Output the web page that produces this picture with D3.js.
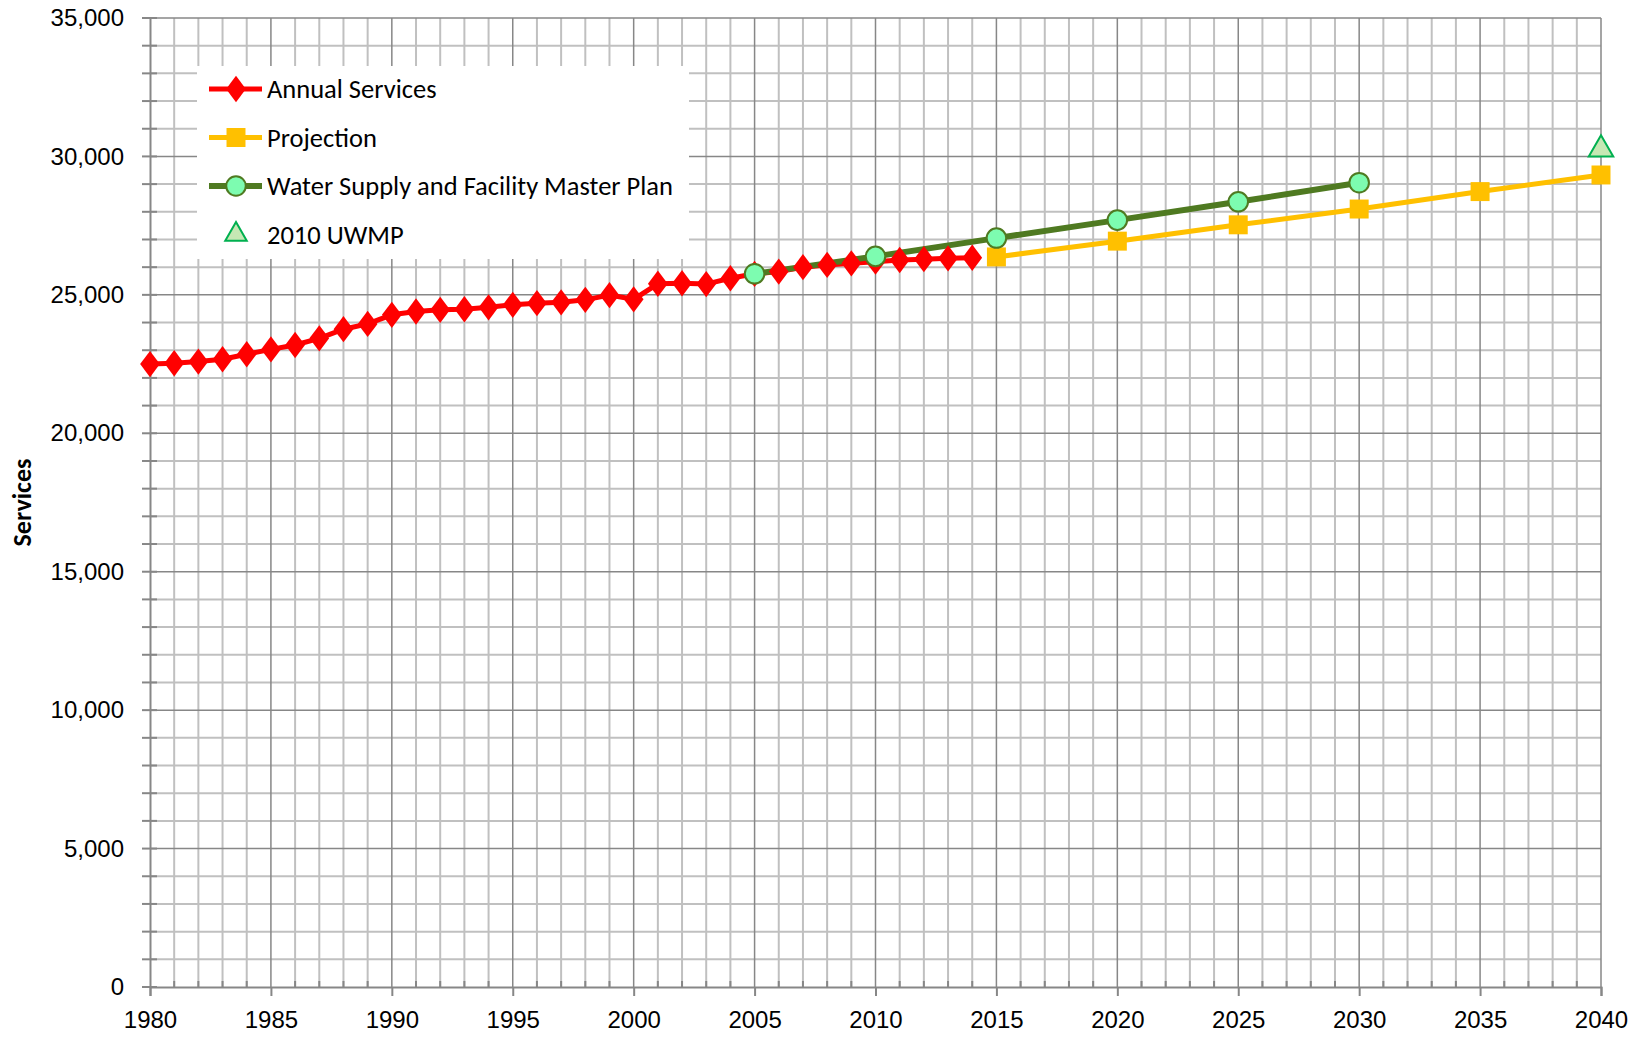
<!DOCTYPE html>
<html>
<head>
<meta charset="utf-8">
<script src="https://cdn.jsdelivr.net/npm/d3@7"></script>
<style>
  body { margin: 0; background: #fff; }
  svg { display: block; font-family: Carlito, Lato, sans-serif; }
</style>
</head>
<body>
<div id="chart"></div>
<script>
// annual services 1980-2014
const annualYears = d3.range(1980, 2015);
const annualValues = [22500, 22530, 22590, 22675, 22855, 23030, 23190, 23430, 23760, 23950,
  24280, 24400, 24460, 24480, 24550, 24640, 24700, 24730, 24820, 24990,
  24840, 25400, 25420, 25390, 25600, 25760, 25840, 26000, 26080, 26140,
  26200, 26260, 26290, 26320, 26340];

const projYears = [2015, 2020, 2025, 2030, 2035, 2040];
const projValues = [26370, 26940, 27530, 28100, 28730, 29330];

const planYears = [2005, 2010, 2015, 2020, 2025, 2030];
const planValues = [25760, 26390, 27050, 27700, 28360, 29050];

const uwmpYears = [2040];
const uwmpValues = [30250];

const legendLabels = ['Annual Services', 'Projection', 'Water Supply and Facility Master Plan', '2010 UWMP'];

const width = 1644, height = 1040;
const margin = { left: 150, right: 43, top: 18, bottom: 53 };

const svg = d3.select('#chart').append('svg')
  .attr('width', width)
  .attr('height', height);

const x = d3.scaleLinear().domain([1980, 2040]).range([margin.left, width - margin.right]);
const y = d3.scaleLinear().domain([0, 35000]).range([height - margin.bottom, margin.top]);

const minorGrey = '#c0c0c0', majorGrey = '#878787';

// grid - minor first
svg.append('g')
  .selectAll('line.vminor')
  .data(d3.range(1981, 2040).filter(d => d % 5 !== 0))
  .enter().append('line')
  .attr('x1', d => x(d)).attr('x2', d => x(d))
  .attr('y1', y(0)).attr('y2', y(35000))
  .attr('stroke', minorGrey).attr('stroke-width', 2);

svg.append('g')
  .selectAll('line.hminor')
  .data(d3.range(1000, 35000, 1000).filter(d => d % 5000 !== 0))
  .enter().append('line')
  .attr('x1', x(1980)).attr('x2', x(2040))
  .attr('y1', d => y(d)).attr('y2', d => y(d))
  .attr('stroke', minorGrey).attr('stroke-width', 2);

svg.append('g')
  .selectAll('line')
  .data(d3.range(1985, 2041, 5))
  .enter().append('line')
  .attr('x1', d => x(d)).attr('x2', d => x(d))
  .attr('y1', y(0)).attr('y2', y(35000))
  .attr('stroke', majorGrey).attr('stroke-width', 1.5);

svg.append('g')
  .selectAll('line')
  .data(d3.range(5000, 35001, 5000))
  .enter().append('line')
  .attr('x1', x(1980)).attr('x2', x(2040))
  .attr('y1', d => y(d)).attr('y2', d => y(d))
  .attr('stroke', majorGrey).attr('stroke-width', 1.5);

// y axis
const yAxis = svg.append('g')
  .attr('transform', `translate(${x(1980)},0)`)
  .call(d3.axisLeft(y).tickValues(d3.range(0, 35001, 5000)).tickFormat(d3.format(',')).tickSize(0).tickPadding(26));
yAxis.select('.domain').attr('stroke', majorGrey).attr('stroke-width', 2);
yAxis.selectAll('text').attr('font-size', 24).attr('fill', '#000');

svg.append('g')
  .selectAll('line')
  .data(d3.range(0, 35001, 1000))
  .enter().append('line')
  .attr('x1', x(1980) - 8).attr('x2', x(1980) + 7)
  .attr('y1', d => y(d)).attr('y2', d => y(d))
  .attr('stroke', majorGrey).attr('stroke-width', 2);

// x axis
const xAxis = svg.append('g')
  .attr('transform', `translate(0,${y(0)})`)
  .call(d3.axisBottom(x).tickValues(d3.range(1980, 2041, 5)).tickFormat(d3.format('d')).tickSize(9).tickPadding(15));
xAxis.select('.domain').attr('stroke', majorGrey).attr('stroke-width', 2);
xAxis.selectAll('.tick line').attr('stroke', majorGrey).attr('stroke-width', 2);
xAxis.selectAll('text').attr('font-size', 24).attr('fill', '#000');

svg.append('g')
  .selectAll('line')
  .data(d3.range(1981, 2040).filter(d => d % 5 !== 0))
  .enter().append('line')
  .attr('x1', d => x(d)).attr('x2', d => x(d))
  .attr('y1', y(0) - 6).attr('y2', y(0))
  .attr('stroke', majorGrey).attr('stroke-width', 2);

// y title
svg.append('text')
  .attr('transform', `translate(31,${(y(0) + y(35000)) / 2}) rotate(-90)`)
  .attr('text-anchor', 'middle')
  .attr('font-size', 26)
  .attr('font-weight', 'bold')
  .text('Services');

// series
const line = d3.line().x(d => x(d[0])).y(d => y(d[1]));

const annual = annualYears.map((d, i) => [d, annualValues[i]]);
const proj = projYears.map((d, i) => [d, projValues[i]]);
const plan = planYears.map((d, i) => [d, planValues[i]]);
const uwmp = uwmpYears.map((d, i) => [d, uwmpValues[i]]);

const series = [
  { data: annual, stroke: '#ff0000', width: 5, sym: d3.symbolDiamond, size: 200, fill: '#ff0000', mstroke: 'none' },
  { data: proj, stroke: '#ffc000', width: 5, sym: d3.symbolSquare, size: 360, fill: '#ffc000', mstroke: 'none' },
  { data: plan, stroke: '#4f7a21', width: 6, sym: d3.symbolCircle, size: 300, fill: '#7dfcb0', mstroke: '#4f7a21' },
  { data: uwmp, stroke: null, sym: d3.symbolTriangle, size: 260, fill: '#c6e8b4', mstroke: '#00b050' }
];

series.forEach(s => {
  if (s.stroke) {
    svg.append('path')
      .datum(s.data)
      .attr('d', line)
      .attr('fill', 'none')
      .attr('stroke', s.stroke)
      .attr('stroke-width', s.width);
  }
});

series.forEach(s => {
  svg.append('g')
    .selectAll('path')
    .data(s.data)
    .enter().append('path')
    .attr('d', d3.symbol().type(s.sym).size(s.size))
    .attr('transform', d => `translate(${x(d[0])},${y(d[1])})` + (s.sym === d3.symbolDiamond ? ' scale(1.3,1)' : ''))
    .attr('fill', s.fill)
    .attr('stroke', s.mstroke)
    .attr('stroke-width', 2);
});

// legend
const legend = svg.append('g').attr('transform', 'translate(197,66)');
legend.append('rect')
  .attr('width', 492).attr('height', 193)
  .attr('fill', '#fff');

legendLabels.forEach((label, i) => {
  const s = series[i];
  const g = legend.append('g').attr('transform', `translate(0,${23 + i * 48.5})`);
  if (s.stroke) {
    g.append('line')
      .attr('x1', 12).attr('x2', 65)
      .attr('stroke', s.stroke).attr('stroke-width', s.width);
  }
  g.append('path')
    .attr('d', d3.symbol().type(s.sym).size(s.sym === d3.symbolTriangle ? 200 : s.size))
    .attr('transform', `translate(39,0)` + (s.sym === d3.symbolDiamond ? ' scale(1.3,1)' : ''))
    .attr('fill', s.fill)
    .attr('stroke', s.mstroke)
    .attr('stroke-width', 2);
  g.append('text')
    .attr('x', 70)
    .attr('dy', '0.35em')
    .attr('font-size', 26.5)
    .text(label);
});
</script>
</body>
</html>
